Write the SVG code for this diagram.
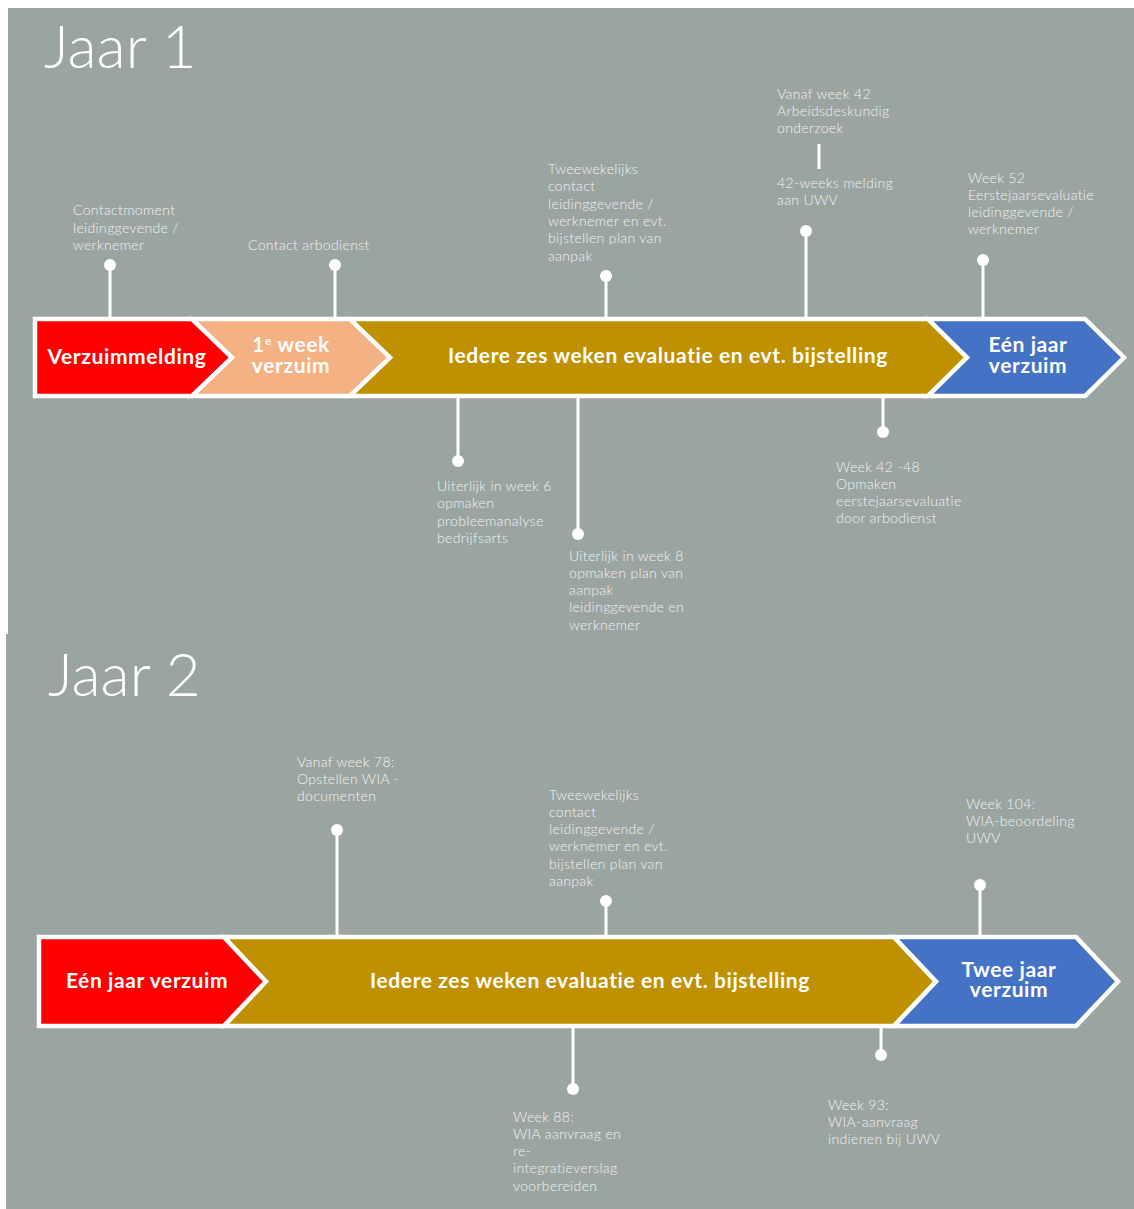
<svg xmlns="http://www.w3.org/2000/svg" width="1134" height="1209" viewBox="0 0 1134 1209">
<style>
.bg{fill:#9aa5a2}
.title{font-family:Lato,"Open Sans",sans-serif;font-weight:300;font-size:60px;fill:#ffffff}
.lbl{font-family:Lato,"Open Sans",sans-serif;font-weight:300;font-size:14px;letter-spacing:0.35px;fill:#f2f2f2}
.band{font-family:Lato,"Open Sans",sans-serif;font-weight:700;font-size:21px;letter-spacing:0.6px;fill:#ffffff;text-anchor:middle}
.chev{stroke:#ffffff;stroke-width:4.5;stroke-linejoin:miter}
.stem{stroke:#ffffff;stroke-width:3;fill:none}
.dot{fill:#ffffff}
</style>
<rect x="0" y="0" width="1134" height="1209" fill="#ffffff"/>
<rect class="bg" x="8" y="8" width="1126" height="626"/>
<rect class="bg" x="6" y="634" width="1128" height="575"/>

<text class="title" x="44" y="68">Jaar 1</text>
<text class="title" x="48" y="696">Jaar 2</text>

<g id="connectors">
  <line class="stem" x1="110" y1="265" x2="110" y2="318"/>
  <circle class="dot" cx="110" cy="265" r="6"/>
  <line class="stem" x1="335" y1="265" x2="335" y2="318"/>
  <circle class="dot" cx="335" cy="265" r="6"/>
  <line class="stem" x1="606" y1="276" x2="606" y2="318"/>
  <circle class="dot" cx="606" cy="276" r="6"/>
  <line class="stem" x1="819" y1="144" x2="819" y2="169"/>
  <line class="stem" x1="806" y1="231" x2="806" y2="318"/>
  <circle class="dot" cx="806" cy="231" r="6"/>
  <line class="stem" x1="983" y1="260" x2="983" y2="318"/>
  <circle class="dot" cx="983" cy="260" r="6"/>
  <line class="stem" x1="458" y1="397" x2="458" y2="461"/>
  <circle class="dot" cx="458" cy="461" r="6"/>
  <line class="stem" x1="578" y1="397" x2="578" y2="534"/>
  <circle class="dot" cx="578" cy="534" r="6"/>
  <line class="stem" x1="883" y1="397" x2="883" y2="432"/>
  <circle class="dot" cx="883" cy="432" r="6"/>

  <line class="stem" x1="337" y1="830" x2="337" y2="936"/>
  <circle class="dot" cx="337" cy="830" r="6"/>
  <line class="stem" x1="606" y1="901" x2="606" y2="936"/>
  <circle class="dot" cx="606" cy="901" r="6"/>
  <line class="stem" x1="980" y1="885" x2="980" y2="936"/>
  <circle class="dot" cx="980" cy="885" r="6"/>
  <line class="stem" x1="573" y1="1027" x2="573" y2="1089"/>
  <circle class="dot" cx="573" cy="1089" r="6"/>
  <line class="stem" x1="881" y1="1027" x2="881" y2="1055"/>
  <circle class="dot" cx="881" cy="1055" r="6"/>
</g>

<g id="y1-verzuimmelding">
  <polygon class="chev" fill="#ff0000" points="35,319 192,319 232,357.5 192,396 35,396"/>
  <text class="band" x="127" y="364">Verzuimmelding</text>
</g>
<g id="y1-eerste-week">
  <polygon class="chev" fill="#f4b183" points="192,319 350,319 390,357.5 350,396 192,396 232,357.5"/>
  <text class="band" x="291" y="352">1<tspan font-size="12" dy="-7">e</tspan><tspan dy="7"> week</tspan></text>
  <text class="band" x="291" y="373">verzuim</text>
</g>
<g id="y1-evaluatie">
  <polygon class="chev" fill="#bf9000" points="350,319 928,319 967,357.5 928,396 350,396 390,357.5"/>
  <text class="band" x="668" y="363">Iedere zes weken evaluatie en evt. bijstelling</text>
</g>
<g id="y1-een-jaar">
  <polygon class="chev" fill="#4472c4" points="928,319 1085,319 1124,357.5 1085,396 928,396 967,357.5"/>
  <text class="band" x="1028" y="352">Eén jaar</text>
  <text class="band" x="1028" y="373">verzuim</text>
</g>

<g id="y2-een-jaar">
  <polygon class="chev" fill="#ff0000" points="39,937 224,937 266,981.5 224,1026 39,1026"/>
  <text class="band" x="147" y="988">Eén jaar verzuim</text>
</g>
<g id="y2-evaluatie">
  <polygon class="chev" fill="#bf9000" points="224,937 894,937 936,981.5 894,1026 224,1026 266,981.5"/>
  <text class="band" x="590" y="988">Iedere zes weken evaluatie en evt. bijstelling</text>
</g>
<g id="y2-twee-jaar">
  <polygon class="chev" fill="#4472c4" points="894,937 1076,937 1118,981.5 1076,1026 894,1026 936,981.5"/>
  <text class="band" x="1009" y="977">Twee jaar</text>
  <text class="band" x="1009" y="997">verzuim</text>
</g>

<g id="c-contactmoment">
  <text class="lbl"><tspan x="73" y="215">Contactmoment</tspan><tspan x="73" y="232.5">leidinggevende /</tspan><tspan x="73" y="250">werknemer</tspan></text>
</g>
<g id="c-arbodienst">
  <text class="lbl"><tspan x="248" y="250">Contact arbodienst</tspan></text>
</g>
<g id="c-tweewekelijks-1">
  <text class="lbl"><tspan x="548" y="174">Tweewekelijks</tspan><tspan x="548" y="191.3">contact</tspan><tspan x="548" y="208.6">leidinggevende /</tspan><tspan x="548" y="225.9">werknemer en evt.</tspan><tspan x="548" y="243.2">bijstellen plan van</tspan><tspan x="548" y="260.5">aanpak</tspan></text>
</g>
<g id="c-week42">
  <text class="lbl"><tspan x="777" y="99">Vanaf week 42</tspan><tspan x="777" y="116">Arbeidsdeskundig</tspan><tspan x="777" y="133">onderzoek</tspan><tspan x="777" y="188">42-weeks melding</tspan><tspan x="777" y="205">aan UWV</tspan></text>
</g>
<g id="c-week52">
  <text class="lbl"><tspan x="968" y="183">Week 52</tspan><tspan x="968" y="200">Eerstejaarsevaluatie</tspan><tspan x="968" y="217">leidinggevende /</tspan><tspan x="968" y="234">werknemer</tspan></text>
</g>
<g id="c-week6">
  <text class="lbl"><tspan x="437" y="491">Uiterlijk in week 6</tspan><tspan x="437" y="508.3">opmaken</tspan><tspan x="437" y="525.6">probleemanalyse</tspan><tspan x="437" y="542.9">bedrijfsarts</tspan></text>
</g>
<g id="c-week8">
  <text class="lbl"><tspan x="569" y="560.5">Uiterlijk in week 8</tspan><tspan x="569" y="577.8">opmaken plan van</tspan><tspan x="569" y="595.1">aanpak</tspan><tspan x="569" y="612.4">leidinggevende en</tspan><tspan x="569" y="629.7">werknemer</tspan></text>
</g>
<g id="c-week42-48">
  <text class="lbl"><tspan x="836" y="471.5">Week 42 -48</tspan><tspan x="836" y="488.8">Opmaken</tspan><tspan x="836" y="506.1">eerstejaarsevaluatie</tspan><tspan x="836" y="523.4">door arbodienst</tspan></text>
</g>

<g id="c-week78">
  <text class="lbl"><tspan x="297" y="766.5">Vanaf week 78:</tspan><tspan x="297" y="783.8">Opstellen WIA -</tspan><tspan x="297" y="801.1">documenten</tspan></text>
</g>
<g id="c-tweewekelijks-2">
  <text class="lbl"><tspan x="549" y="799.5">Tweewekelijks</tspan><tspan x="549" y="816.8">contact</tspan><tspan x="549" y="834.1">leidinggevende /</tspan><tspan x="549" y="851.4">werknemer en evt.</tspan><tspan x="549" y="868.7">bijstellen plan van</tspan><tspan x="549" y="886">aanpak</tspan></text>
</g>
<g id="c-week104">
  <text class="lbl"><tspan x="966" y="808.5">Week 104:</tspan><tspan x="966" y="825.8">WIA-beoordeling</tspan><tspan x="966" y="843.1">UWV</tspan></text>
</g>
<g id="c-week88">
  <text class="lbl"><tspan x="513" y="1121.5">Week 88:</tspan><tspan x="513" y="1138.8">WIA aanvraag en</tspan><tspan x="513" y="1156.1">re-</tspan><tspan x="513" y="1173.4">integratieverslag</tspan><tspan x="513" y="1190.7">voorbereiden</tspan></text>
</g>
<g id="c-week93">
  <text class="lbl"><tspan x="828" y="1109.5">Week 93:</tspan><tspan x="828" y="1126.8">WIA-aanvraag</tspan><tspan x="828" y="1144.1">indienen bij UWV</tspan></text>
</g>
</svg>
